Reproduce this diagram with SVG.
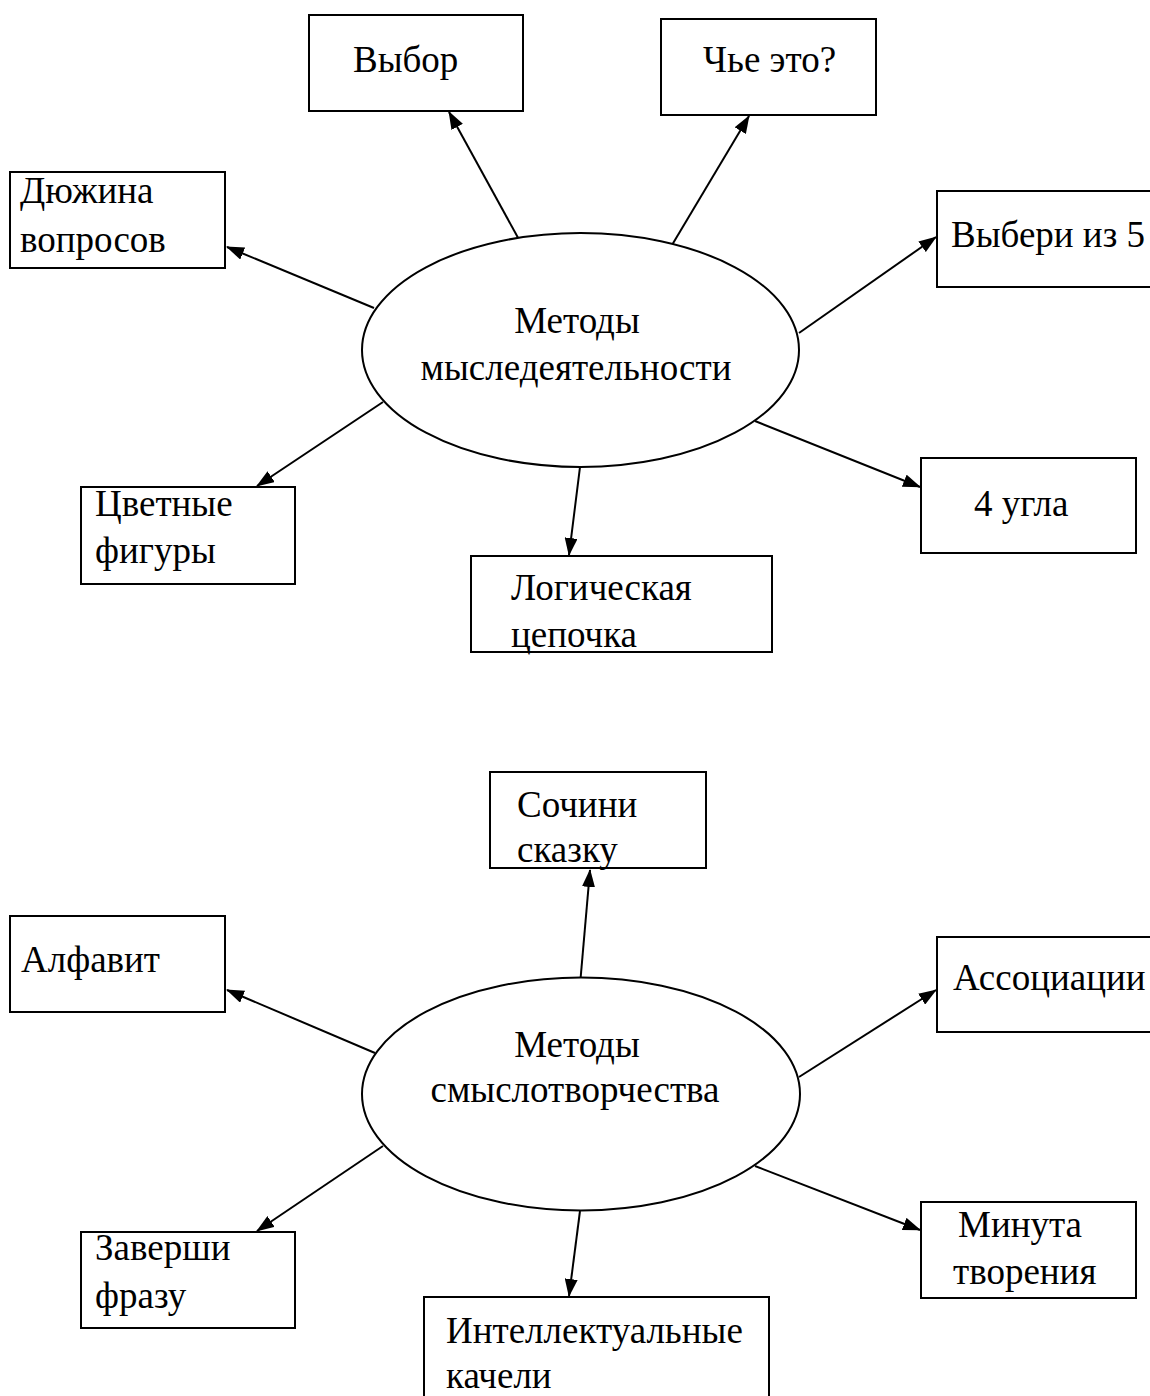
<svg xmlns="http://www.w3.org/2000/svg" width="1150" height="1396" viewBox="0 0 1150 1396">
<style>
.box{fill:#fff;stroke:#000;stroke-width:2}
.ell{fill:#fff;stroke:#000;stroke-width:2}
.t{font-family:"Liberation Serif","Times New Roman",serif;font-size:37px;fill:#000}
.c{stroke:#000;stroke-width:2;fill:none;marker-end:url(#ah)}
</style>
<defs>
<marker id="ah" viewBox="0 0 18 13" refX="17" refY="6.5" markerWidth="18" markerHeight="13" markerUnits="userSpaceOnUse" orient="auto">
<path d="M0,0 L18,6.5 L0,13 z" fill="#000"/>
</marker>
</defs>
<rect width="1150" height="1396" fill="#fff"/>
<g id="connectors">
<line class="c" x1="522" y1="245" x2="449" y2="112"/>
<line class="c" x1="672" y1="245" x2="749" y2="116"/>
<line class="c" x1="374" y1="308" x2="227" y2="247"/>
<line class="c" x1="799" y1="333" x2="936" y2="237"/>
<line class="c" x1="383" y1="402" x2="257" y2="486"/>
<line class="c" x1="580" y1="467" x2="569" y2="555"/>
<line class="c" x1="755" y1="421" x2="920" y2="487"/>
<line class="c" x1="580" y1="985" x2="590" y2="870"/>
<line class="c" x1="375" y1="1053" x2="227" y2="990"/>
<line class="c" x1="799" y1="1077" x2="936" y2="990"/>
<line class="c" x1="383" y1="1146" x2="257" y2="1231"/>
<line class="c" x1="580" y1="1211" x2="569" y2="1296"/>
<line class="c" x1="755" y1="1166" x2="920" y2="1230"/>
</g>
<g id="center1">
<ellipse class="ell" cx="580.5" cy="350" rx="218.5" ry="117"/>
<text class="t" x="577" y="333" text-anchor="middle">Методы</text>
<text class="t" x="576" y="380" text-anchor="middle">мыследеятельности</text>
</g>
<g id="n-vybor">
<rect class="box" x="309" y="15" width="214" height="96"/>
<text class="t" x="353" y="72">Выбор</text>
</g>
<g id="n-chye">
<rect class="box" x="661" y="19" width="215" height="96"/>
<text class="t" x="703" y="72">Чье это?</text>
</g>
<g id="n-dyuzhina">
<rect class="box" x="10" y="172" width="215" height="96"/>
<text class="t" x="20" y="203">Дюжина</text>
<text class="t" x="20" y="252">вопросов</text>
</g>
<g id="n-viberi">
<rect class="box" x="937" y="191" width="220" height="96"/>
<text class="t" x="951" y="247">Выбери из 5</text>
</g>
<g id="n-cvetnye">
<rect class="box" x="81" y="487" width="214" height="97"/>
<text class="t" x="95" y="516">Цветные</text>
<text class="t" x="95" y="563">фигуры</text>
</g>
<g id="n-logich">
<rect class="box" x="471" y="556" width="301" height="96"/>
<text class="t" x="511" y="600">Логическая</text>
<text class="t" x="511" y="647">цепочка</text>
</g>
<g id="n-4ugla">
<rect class="box" x="921" y="458" width="215" height="95"/>
<text class="t" x="974" y="516">4 угла</text>
</g>
<g id="center2">
<ellipse class="ell" cx="581" cy="1094" rx="219" ry="116.5"/>
<text class="t" x="577" y="1057" text-anchor="middle">Методы</text>
<text class="t" x="575" y="1102" text-anchor="middle">смыслотворчества</text>
</g>
<g id="n-sochini">
<rect class="box" x="490" y="772" width="216" height="96"/>
<text class="t" x="517" y="817">Сочини</text>
<text class="t" x="517" y="862">сказку</text>
</g>
<g id="n-alfavit">
<rect class="box" x="10" y="916" width="215" height="96"/>
<text class="t" x="21" y="972">Алфавит</text>
</g>
<g id="n-assoc">
<rect class="box" x="937" y="937" width="220" height="95"/>
<text class="t" x="953" y="990">Ассоциации</text>
</g>
<g id="n-zaversh">
<rect class="box" x="81" y="1232" width="214" height="96"/>
<text class="t" x="95" y="1260">Заверши</text>
<text class="t" x="95" y="1308">фразу</text>
</g>
<g id="n-intel">
<rect class="box" x="424" y="1297" width="345" height="100"/>
<text class="t" x="446" y="1343">Интеллектуальные</text>
<text class="t" x="446" y="1388">качели</text>
</g>
<g id="n-minuta">
<rect class="box" x="921" y="1202" width="215" height="96"/>
<text class="t" x="958" y="1237">Минута</text>
<text class="t" x="953" y="1284">творения</text>
</g>
</svg>
